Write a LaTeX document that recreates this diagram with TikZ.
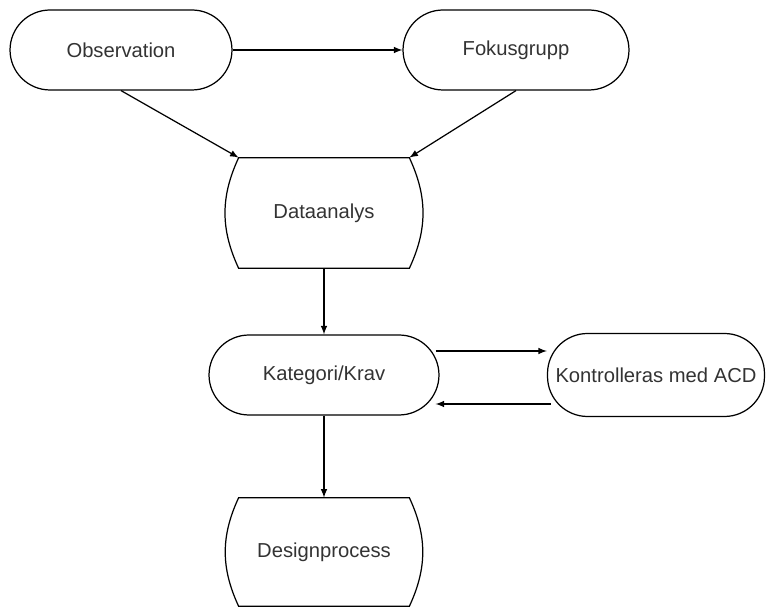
\documentclass[tikz,border=0pt]{standalone}
\usepackage{fontspec}
\setmainfont{Liberation Sans}
\usepackage{tikz}

\tikzset{
  stadium/.style={draw, rectangle, rounded corners=0.8cm, minimum height=1.6cm, inner sep=0pt, line width=0.7pt},
  procbox/.style={rectangle, minimum width=3.4cm, inner sep=0pt},
  conn/.style={-latex, line width=0.7pt},
  procline/.style={line width=0.7pt}
}

\begin{document}
\begin{tikzpicture}
[x=0.02cm, y=-0.02cm, every node/.style={font=\fontsize{11.5}{14}\selectfont, text=black!80, anchor=center}]
\useasboundingbox (0,0) rectangle (768,607);
% Define the steps
\node[stadium, minimum width=4.44cm] (obs) at (121,50) {Observation};
\node[stadium, minimum width=4.52cm] (fok) at (516,50) {Fokusgrupp};
\node[procbox, minimum height=2.2cm] (da) at (324,213) {Dataanalys};
\node[stadium, minimum width=4.6cm] (kat) at (324,375) {Kategori/Krav};
\node[stadium, minimum width=4.34cm, minimum height=1.66cm] (kon) at (656,375) {Kontrolleras med ACD};
\node[procbox, minimum height=2.16cm] (dp) at (324,552) {Designprocess};

% Curved sides of the process boxes
\draw [procline] (da.north west) -- (da.north east) to[bend left=25] (da.south east)
  -- (da.south west) to[bend left=25] (da.north west) -- cycle;
\draw [procline] (dp.north west) -- (dp.north east) to[bend left=25] (dp.south east)
  -- (dp.south west) to[bend left=25] (dp.north west) -- cycle;

\draw [conn] (obs.east) -- (fok.west);
\draw [conn] (obs.south) -- (da.north west);
\draw [conn] (fok.south) -- (da.north east);
\draw [conn] (da.south) -- (kat.north);
\draw [conn] ([shift={(-4,-24)}]kat.east) -- ([shift={(0,-24)}]kon.west);
\draw [conn] ([shift={(4,29)}]kon.west) -- ([shift={(-4,29)}]kat.east);
\draw [conn] (kat.south) -- (dp.north);
\end{tikzpicture}
\end{document}
